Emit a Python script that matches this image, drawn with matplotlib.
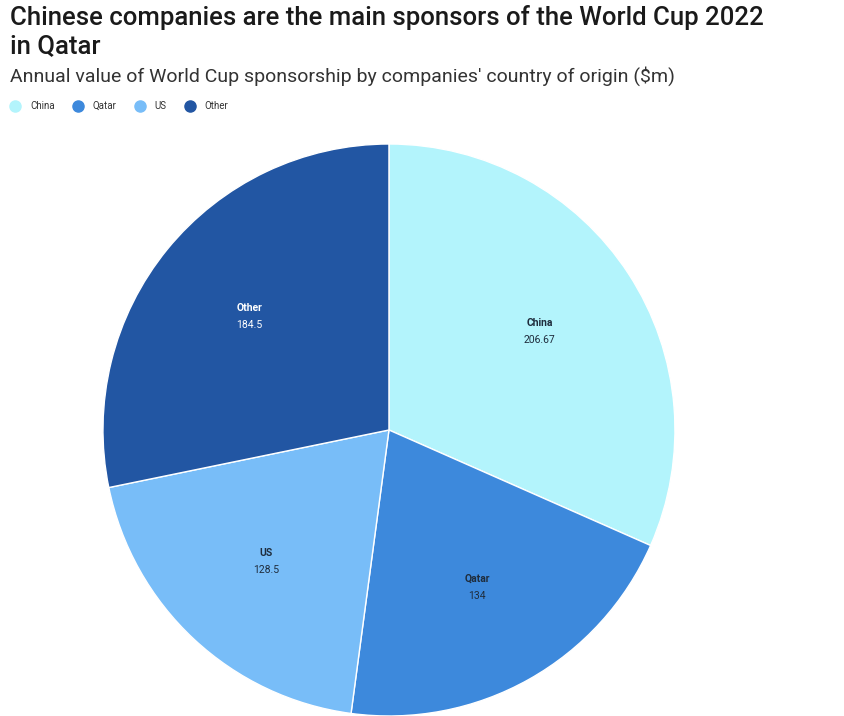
import matplotlib
matplotlib.use("Agg")
import matplotlib.pyplot as plt
from matplotlib.lines import Line2D
import numpy as np

categories = ["China", "Qatar", "US", "Other"]
values = [206.67, 134, 128.5, 184.5]
value_labels = ["206.67", "134", "128.5", "184.5"]
colors = ["#b3f4fc", "#3d89dc", "#78bdf8", "#2256a3"]
label_colors = ["#1f2d3d", "#1f2d3d", "#1f2d3d", "#ffffff"]

plt.rcParams['font.family'] = ['Roboto', 'DejaVu Sans']

fig = plt.figure(figsize=(8.44, 7.16), dpi=100)
fig.patch.set_facecolor("white")

fig.text(0.012, 0.993, "Chinese companies are the main sponsors of the World Cup 2022\nin Qatar",
         fontsize=18.5, fontweight=500, color="#1a1a1a", va="top", ha="left", linespacing=1.2)
fig.text(0.012, 0.893, "Annual value of World Cup sponsorship by companies' country of origin ($m)",
         fontsize=14, color="#333333", va="center", ha="left")

handles = [Line2D([0], [0], marker='o', linestyle='', markersize=8, markerfacecolor=c,
                  markeredgecolor=c) for c in colors]
fig.legend(handles, categories, loc="center left", bbox_to_anchor=(0.002, 0.852), ncol=4,
           frameon=False, fontsize=7, handletextpad=1.0, columnspacing=1.9,
           labelcolor="#333333", handlelength=1.0)

ax = fig.add_axes([0.122, 0.0, 0.6777, 0.7989])
wedges, _ = ax.pie(values, colors=colors, startangle=90, counterclock=False, radius=1,
                   wedgeprops=dict(edgecolor="white", linewidth=1))
ax.set_xlim(-1, 1)
ax.set_ylim(-1, 1)
ax.axis("off")

total = sum(values)
start = 90
for i, (cat, v) in enumerate(zip(categories, values)):
    ang = start - v / total * 360 / 2
    start -= v / total * 360
    r = 0.63
    x = r * np.cos(np.radians(ang))
    y = r * np.sin(np.radians(ang))
    ax.text(x, y + 0.03, cat, ha="center", va="center", fontsize=7.5, fontweight="bold",
            color=label_colors[i])
    ax.text(x, y - 0.03, value_labels[i], ha="center", va="center", fontsize=7.5,
            color=label_colors[i])

fig.savefig("out.png", dpi=100)
